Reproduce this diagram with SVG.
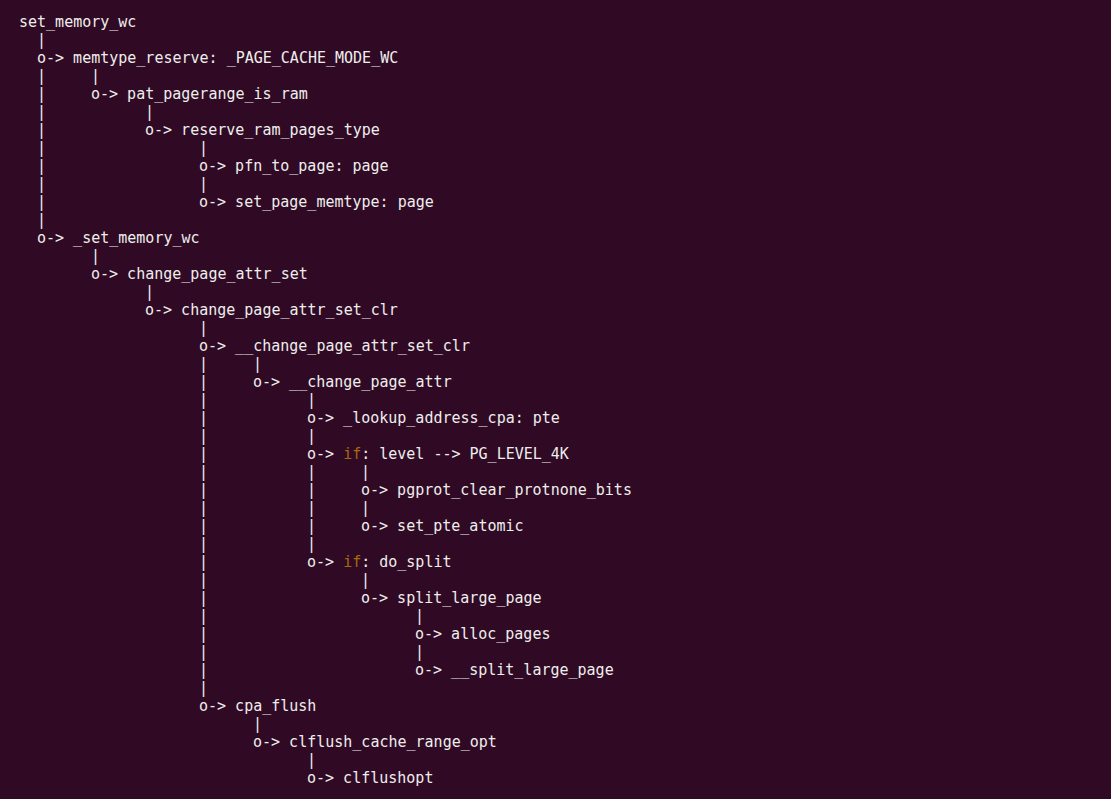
<svg xmlns="http://www.w3.org/2000/svg" width="1111" height="799" viewBox="0 0 1111 799">
<style>
text{font-family:"DejaVu Sans Mono","Liberation Mono",monospace;font-size:15px;fill:#EEEEEC;white-space:pre}
.kw{fill:#A8690C}
</style>
<rect width="1111" height="799" fill="#300A24"/>
<g id="connectors">
<text x="37" y="45">|</text>
<text x="37" y="81">|</text><text x="91" y="81">|</text>
<text x="37" y="99">|</text>
<text x="37" y="117">|</text><text x="145" y="117">|</text>
<text x="37" y="135">|</text>
<text x="37" y="153">|</text><text x="199" y="153">|</text>
<text x="37" y="171">|</text>
<text x="37" y="189">|</text><text x="199" y="189">|</text>
<text x="37" y="207">|</text>
<text x="37" y="225">|</text>
<text x="91" y="261">|</text>
<text x="145" y="297">|</text>
<text x="199" y="333">|</text>
<text x="199" y="369">|</text><text x="253" y="369">|</text>
<text x="199" y="387">|</text>
<text x="199" y="405">|</text><text x="307" y="405">|</text>
<text x="199" y="423">|</text>
<text x="199" y="441">|</text><text x="307" y="441">|</text>
<text x="199" y="459">|</text>
<text x="199" y="477">|</text><text x="307" y="477">|</text><text x="361" y="477">|</text>
<text x="199" y="495">|</text><text x="307" y="495">|</text>
<text x="199" y="513">|</text><text x="307" y="513">|</text><text x="361" y="513">|</text>
<text x="199" y="531">|</text><text x="307" y="531">|</text>
<text x="199" y="549">|</text><text x="307" y="549">|</text>
<text x="199" y="567">|</text>
<text x="199" y="585">|</text><text x="361" y="585">|</text>
<text x="199" y="603">|</text>
<text x="199" y="621">|</text><text x="415" y="621">|</text>
<text x="199" y="639">|</text>
<text x="199" y="657">|</text><text x="415" y="657">|</text>
<text x="199" y="675">|</text>
<text x="199" y="693">|</text>
<text x="253" y="729">|</text>
<text x="307" y="765">|</text>
</g>
<g id="n-set_memory_wc"><text x="19" y="27">set_memory_wc</text></g>
<g id="n-memtype_reserve"><text x="37" y="63">o-&gt; memtype_reserve: _PAGE_CACHE_MODE_WC</text></g>
<g id="n-pat_pagerange_is_ram"><text x="91" y="99">o-&gt; pat_pagerange_is_ram</text></g>
<g id="n-reserve_ram_pages_type"><text x="145" y="135">o-&gt; reserve_ram_pages_type</text></g>
<g id="n-pfn_to_page"><text x="199" y="171">o-&gt; pfn_to_page: page</text></g>
<g id="n-set_page_memtype"><text x="199" y="207">o-&gt; set_page_memtype: page</text></g>
<g id="n-_set_memory_wc"><text x="37" y="243">o-&gt; _set_memory_wc</text></g>
<g id="n-change_page_attr_set"><text x="91" y="279">o-&gt; change_page_attr_set</text></g>
<g id="n-change_page_attr_set_clr"><text x="145" y="315">o-&gt; change_page_attr_set_clr</text></g>
<g id="n-__change_page_attr_set_clr"><text x="199" y="351">o-&gt; __change_page_attr_set_clr</text></g>
<g id="n-__change_page_attr"><text x="253" y="387">o-&gt; __change_page_attr</text></g>
<g id="n-_lookup_address_cpa"><text x="307" y="423">o-&gt; _lookup_address_cpa: pte</text></g>
<g id="n-if-level"><text x="307" y="459">o-&gt; <tspan class="kw">if</tspan>: level --&gt; PG_LEVEL_4K</text></g>
<g id="n-pgprot_clear_protnone_bits"><text x="361" y="495">o-&gt; pgprot_clear_protnone_bits</text></g>
<g id="n-set_pte_atomic"><text x="361" y="531">o-&gt; set_pte_atomic</text></g>
<g id="n-if-do_split"><text x="307" y="567">o-&gt; <tspan class="kw">if</tspan>: do_split</text></g>
<g id="n-split_large_page"><text x="361" y="603">o-&gt; split_large_page</text></g>
<g id="n-alloc_pages"><text x="415" y="639">o-&gt; alloc_pages</text></g>
<g id="n-__split_large_page"><text x="415" y="675">o-&gt; __split_large_page</text></g>
<g id="n-cpa_flush"><text x="199" y="711">o-&gt; cpa_flush</text></g>
<g id="n-clflush_cache_range_opt"><text x="253" y="747">o-&gt; clflush_cache_range_opt</text></g>
<g id="n-clflushopt"><text x="307" y="783">o-&gt; clflushopt</text></g>
</svg>
